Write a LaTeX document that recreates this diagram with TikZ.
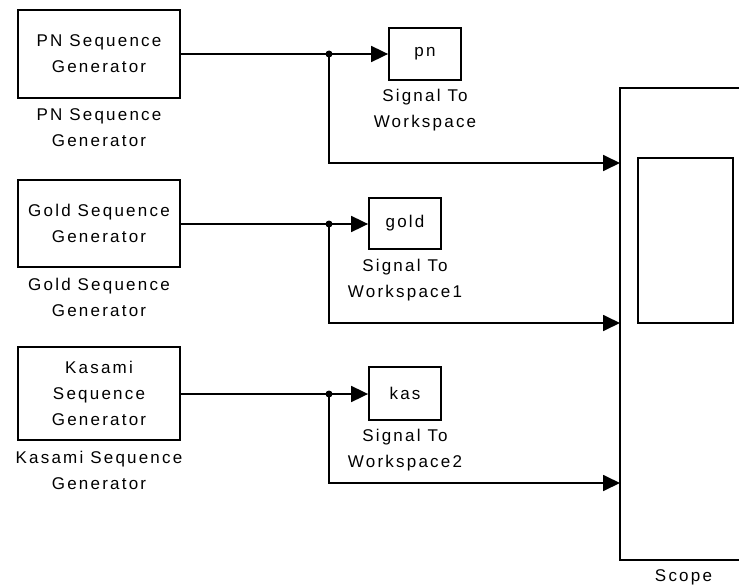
\documentclass[tikz,border=0pt]{standalone}
\usepackage{fontspec}
\setmainfont{Liberation Sans}[LetterSpace=13]
\usetikzlibrary{arrows.meta}
\newcommand{\blkfont}{\fontsize{17}{26}\selectfont}
\tikzset{
  blockbox/.style={draw, rectangle, inner sep=0pt, align=center, font=\blkfont},
  lbl/.style={align=center, inner sep=0pt, font=\blkfont},
  sig/.style={-{Triangle[length=17pt,width=16pt]}},
  junction/.style={circle, fill, inner sep=0pt, minimum size=7pt}
}
\begin{document}
\begin{tikzpicture}[x=1pt,y=-1pt,line width=1.8pt]
\useasboundingbox (0,0) rectangle (739,586);
\clip (0,0) rectangle (739,586);
% generators
\node[blockbox, minimum width=162pt, minimum height=88pt] (pngen) at (99,54) {PN Sequence\\Generator};
\node[lbl] (pnlbl) at (99,128) {PN Sequence\\Generator};
\node[blockbox, minimum width=162pt, minimum height=87pt] (goldgen) at (99,223.5) {Gold Sequence\\Generator};
\node[lbl] (goldlbl) at (99,297.5) {Gold Sequence\\Generator};
\node[blockbox, minimum width=162pt, minimum height=93pt] (kasgen) at (99,393.5) {Kasami\\Sequence\\Generator};
\node[lbl] (kaslbl) at (99,470.5) {Kasami Sequence\\Generator};
% signal to workspace
\node[blockbox, minimum width=72pt, minimum height=52pt] (pnws) at (425,54) {pn};
\node[lbl] (pnwslbl) at (425,110) {Signal To\\Workspace};
\node[blockbox, minimum width=72pt, minimum height=51pt] (goldws) at (405,223.5) {gold};
\node[lbl] (goldwslbl) at (405,280) {Signal To\\Workspace1};
\node[blockbox, minimum width=72pt, minimum height=53pt] (kasws) at (405,393.5) {kas};
\node[lbl] (kaswslbl) at (405,450) {Signal To\\Workspace2};
% scope
\node[blockbox, minimum width=127pt, minimum height=472pt] (scope) at (683.5,324) {};
\node[draw, rectangle, inner sep=0pt, minimum width=95pt, minimum height=165pt] (screen) at (685.5,240.5) {};
\node[lbl] (scopelbl) at (683.5,577) {Scope};
% branch points
\node[junction] (b1) at (329,54) {};
\node[junction] (b2) at (329,224) {};
\node[junction] (b3) at (329,394) {};
\coordinate (s1) at (620,163);
\coordinate (s2) at (620,323);
\coordinate (s3) at (620,483);
% connectors
\draw (pngen.east) -- (b1.center);
\draw[sig] (b1.center) -- (pnws.west);
\draw[sig] (b1.center) |- (s1);
\draw (goldgen.east |- b2) -- (b2.center);
\draw[sig] (b2.center) -- (goldws.west |- b2);
\draw[sig] (b2.center) |- (s2);
\draw (kasgen.east |- b3) -- (b3.center);
\draw[sig] (b3.center) -- (kasws.west |- b3);
\draw[sig] (b3.center) |- (s3);
\end{tikzpicture}
\end{document}
